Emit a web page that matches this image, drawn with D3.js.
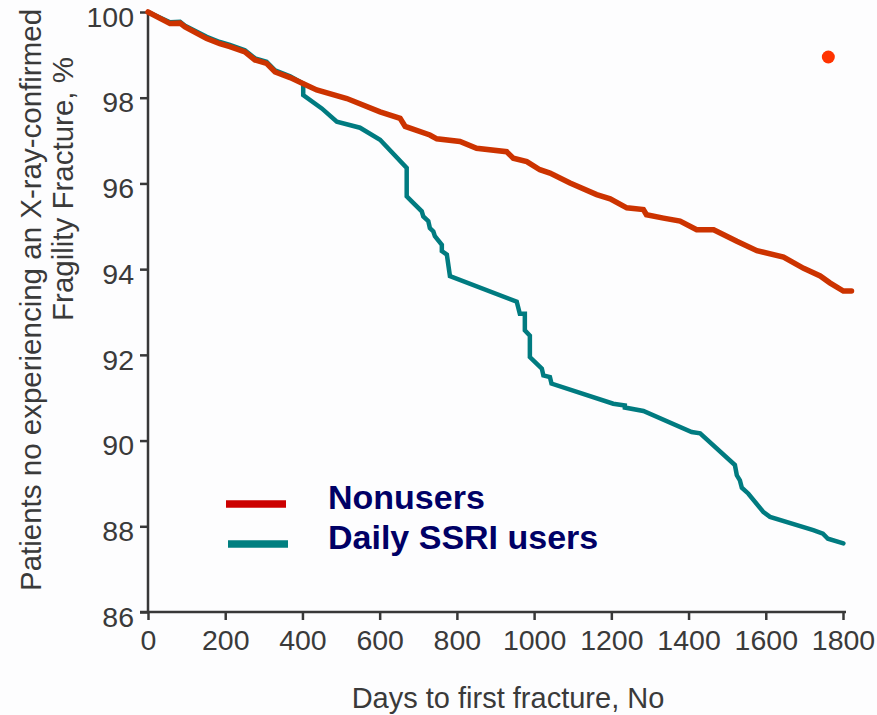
<!DOCTYPE html>
<html>
<head>
<meta charset="utf-8">
<script src="https://cdn.jsdelivr.net/npm/d3@7/dist/d3.min.js"></script>
<style>
  html, body { margin: 0; padding: 0; background: #fdfdfe; }
  svg { display: block; font-family: "Liberation Sans", Arial, sans-serif; }
</style>
</head>
<body>
<svg id="chart" width="877" height="715"></svg>
<script>
// ---- Data ----
const xTicks = [0, 200, 400, 600, 800, 1000, 1200, 1400, 1600, 1800];
const yTicks = [86, 88, 90, 92, 94, 96, 98, 100];

const seriesNames = ["Nonusers", "Daily SSRI users"];

const nonusersDays = [0, 57, 83, 96, 152, 186, 212, 251, 277, 307, 329, 368, 401, 437, 515, 601, 653, 666, 730, 748, 808, 851, 929, 946, 981, 1015, 1041, 1093, 1162, 1197, 1240, 1283, 1291, 1335, 1378, 1421, 1465, 1525, 1577, 1646, 1698, 1741, 1766, 1801, 1822];
const nonusersPct  = [100, 99.73, 99.74, 99.65, 99.38, 99.26, 99.19, 99.07, 98.88, 98.80, 98.60, 98.47, 98.33, 98.18, 97.98, 97.67, 97.52, 97.33, 97.13, 97.04, 96.98, 96.82, 96.74, 96.59, 96.51, 96.32, 96.24, 96.01, 95.74, 95.64, 95.43, 95.39, 95.27, 95.19, 95.12, 94.92, 94.92, 94.65, 94.43, 94.28, 94.02, 93.84, 93.68, 93.49, 93.49];

const ssriDays = [0, 57, 83, 96, 152, 186, 212, 251, 277, 307, 329, 368, 402, 402, 450, 489, 549, 601, 670, 670, 683, 709, 713, 726, 730, 739, 743, 761, 761, 774, 782, 955, 963, 976, 976, 989, 989, 1020, 1024, 1041, 1045, 1205, 1235, 1235, 1283, 1408, 1430, 1520, 1525, 1533, 1538, 1555, 1594, 1611, 1723, 1748, 1761, 1801];
const ssriPct  = [100, 99.76, 99.77, 99.68, 99.42, 99.30, 99.23, 99.11, 98.92, 98.84, 98.64, 98.50, 98.33, 98.06, 97.75, 97.44, 97.30, 97.02, 96.36, 95.70, 95.58, 95.35, 95.23, 95.12, 94.96, 94.88, 94.77, 94.57, 94.42, 94.34, 93.84, 93.24, 92.96, 92.96, 92.57, 92.45, 91.95, 91.68, 91.52, 91.48, 91.33, 90.86, 90.82, 90.77, 90.69, 90.20, 90.17, 89.43, 89.19, 89.07, 88.90, 88.76, 88.33, 88.22, 87.91, 87.83, 87.71, 87.60];

const markerPoint = [1762, 98.95];

// ---- Scales ----
const svg = d3.select("#chart");
const x = d3.scaleLinear().domain([0, 1800]).range([148, 843]);
const y = d3.scaleLinear().domain([86, 100]).range([612, 12]);

const axisColor = "#383838";
const textColor = "#3a3a3a";

// ---- Axes ----
const xAxis = svg.append("g")
  .attr("transform", "translate(0,612)")
  .call(d3.axisBottom(x).tickValues(xTicks).tickSize(8).tickPadding(10).tickFormat(d3.format("d")));
xAxis.select(".domain").remove();
xAxis.append("line").attr("x1", 140).attr("x2", 846).attr("y1", 0).attr("y2", 0)
  .attr("stroke", axisColor).attr("stroke-width", 2.5);
xAxis.selectAll(".tick line").attr("stroke", axisColor).attr("stroke-width", 2.5);
xAxis.selectAll(".tick text").attr("fill", textColor).style("font-size", "28.5px")
  .style("font-family", "'Liberation Sans', Arial, sans-serif");

const yAxis = svg.append("g")
  .attr("transform", "translate(148,0)")
  .call(d3.axisLeft(y).tickValues(yTicks).tickSize(8).tickPadding(6).tickFormat(d3.format("d")));
yAxis.select(".domain").remove();
yAxis.append("line").attr("x1", 0).attr("x2", 0).attr("y1", y(100) - 1).attr("y2", 612)
  .attr("stroke", axisColor).attr("stroke-width", 2.5);
yAxis.selectAll(".tick line").attr("stroke", axisColor).attr("stroke-width", 2.5);
yAxis.selectAll(".tick text").attr("fill", textColor).style("font-size", "28.5px")
  .style("font-family", "'Liberation Sans', Arial, sans-serif")
  .attr("dy", "0.5em");

// ---- Axis titles ----
svg.append("text")
  .attr("x", 508).attr("y", 708)
  .attr("text-anchor", "middle")
  .attr("fill", textColor)
  .style("font-size", "29px")
  .text("Days to first fracture, No");

svg.append("text")
  .attr("transform", "translate(41,300) rotate(-90)")
  .attr("text-anchor", "middle")
  .attr("fill", textColor)
  .style("font-size", "29.5px")
  .text("Patients no experiencing an X-ray-confirmed");

svg.append("text")
  .attr("transform", "translate(73,189) rotate(-90)")
  .attr("text-anchor", "middle")
  .attr("fill", textColor)
  .style("font-size", "29.5px")
  .text("Fragility Fracture, %");

// ---- Lines ----
const line = d3.line().x(d => x(d[0])).y(d => y(d[1]));

const ssriData = ssriDays.map((d, i) => [d, ssriPct[i]]);
const nonData = nonusersDays.map((d, i) => [d, nonusersPct[i]]);

svg.append("path").datum(ssriData)
  .attr("d", line).attr("fill", "none")
  .attr("stroke", "#007b80").attr("stroke-width", 4.5)
  .attr("stroke-linejoin", "miter").attr("stroke-linecap", "round");

svg.append("path").datum(nonData)
  .attr("d", line).attr("fill", "none")
  .attr("stroke", "#cc3300").attr("stroke-width", 5.5)
  .attr("stroke-linejoin", "miter").attr("stroke-linecap", "round");

// ---- Marker dot ----
svg.append("circle")
  .attr("cx", x(markerPoint[0])).attr("cy", y(markerPoint[1])).attr("r", 6.5)
  .attr("fill", "#ff3300");

// ---- Legend ----
const legendColors = ["#cc0000", "#007f80"];
const legendY = [504, 544];
const legend = svg.append("g");
seriesNames.forEach((name, i) => {
  legend.append("line")
    .attr("x1", 226 + i * 2).attr("x2", 286 + i * 2)
    .attr("y1", legendY[i]).attr("y2", legendY[i])
    .attr("stroke", legendColors[i]).attr("stroke-width", 7.5);
  legend.append("text")
    .attr("x", 328).attr("y", legendY[i] + 5)
    .attr("fill", "#000066")
    .style("font-size", "34px").style("font-weight", "bold")
    .text(name);
});
</script>
</body>
</html>
